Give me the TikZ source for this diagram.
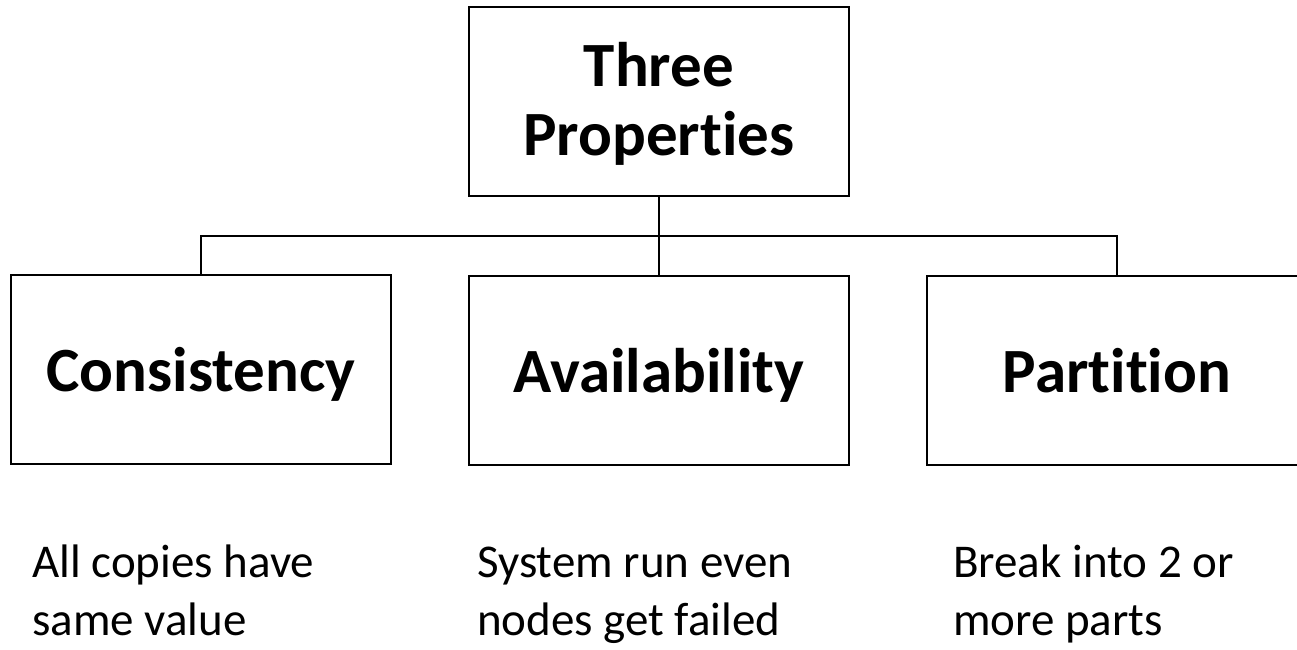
\documentclass[tikz,border=0pt]{standalone}
\usepackage{fontspec}
\setmainfont[Ligatures=NoCommon]{Carlito}
\usepackage{tikz}
\definecolor{ink}{HTML}{000000}
\tikzset{
  propbox/.style={draw=ink, line width=2pt, minimum width=380pt, minimum height=189pt,
    inner sep=0pt, text depth=0pt, font=\fontsize{63}{69}\selectfont\bfseries, align=center},
  link/.style={draw=ink, line width=2pt},
  note/.style={text=ink, inner sep=0pt, anchor=base west, align=left,
    font=\fontsize{47}{58}\selectfont}
}
\begin{document}
\begin{tikzpicture}[x=1pt, y=-1pt]
  \useasboundingbox (0,0) rectangle (1297,649);

  \node[propbox, text depth=6pt] (top) at (659,101.5) {Three\\Properties};

  \node[propbox] (cons)  at (201,369.5) {Consistency};
  \node[propbox] (avail) at (659,370)   {Availability};
  \node[propbox] (part)  at (1117,370)  {Partition};

  \coordinate (bus) at (659,236);
  \draw[link] (top.south) -- (bus);
  \draw[link] (cons.north) |- (bus) -| (part.north);
  \draw[link] (bus) -- (avail.north);

  % base of a two-line note is its last line
  \node[note] (consnote)  at (32,635)  {All copies have\\same value};
  \node[note] (availnote) at (477,635) {System run even\\nodes get failed};
  \node[note] (partnote)  at (953,635) {Break into 2 or\\more parts};
\end{tikzpicture}
\end{document}
